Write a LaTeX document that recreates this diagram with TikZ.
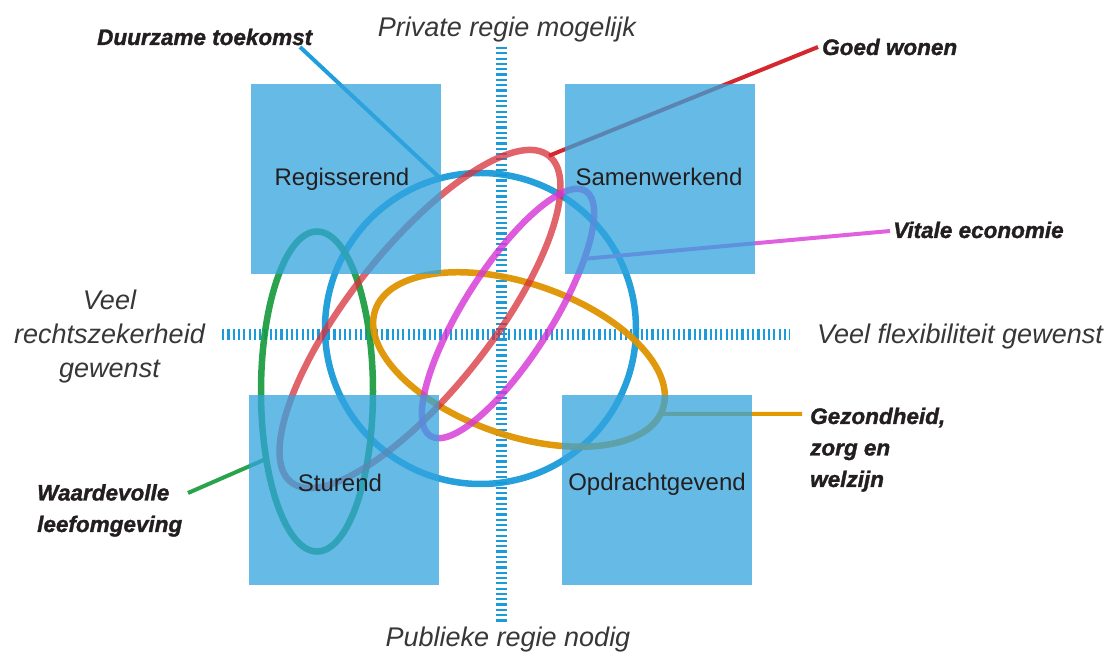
\documentclass[tikz,border=0pt]{standalone}
\usepackage{fontspec}
\setmainfont{Liberation Sans}
\newfontfamily\themefont{Liberation Sans}[BoldItalicFeatures={FakeBold=1.4}]
\usetikzlibrary{shapes.geometric}
\definecolor{sqblue}{RGB}{51,164,222}
\definecolor{axblue}{RGB}{27,155,218}
\definecolor{cblue}{RGB}{20,152,216}
\definecolor{cred}{RGB}{216,48,58}
\definecolor{cpink}{RGB}{214,56,214}
\definecolor{corange}{RGB}{222,148,0}
\definecolor{cgreen}{RGB}{25,154,62}
\definecolor{lred}{RGB}{213,40,46}
\definecolor{lpink}{RGB}{224,96,224}
\definecolor{lorange}{RGB}{226,154,0}
\definecolor{lgreen}{RGB}{43,162,76}
\definecolor{lblue}{RGB}{30,159,219}
\definecolor{txt}{RGB}{35,31,32}
\definecolor{axtxt}{RGB}{55,55,55}
\begin{document}
\begin{tikzpicture}[x=1pt,y=1pt,
  sq/.style={fill=sqblue, fill opacity=0.75, minimum size=190pt, inner sep=0pt, outer sep=0pt, draw=none},
  sqlabel/.style={font=\fontsize{24}{28}\selectfont, text=txt, anchor=base, inner sep=0pt},
  loopshape/.style={ellipse, draw, line width=6.5pt, inner sep=0pt, outer sep=0pt},
  conn/.style={line width=4pt},
  axisline/.style={draw=axblue, line width=11pt, dash pattern=on 2.2pt off 3.1pt},
  axlabel/.style={font=\fontsize{27}{34}\selectfont\itshape, text=axtxt, inner sep=0pt},
  theme/.style={font=\themefont\fontsize{22.5}{31.5}\selectfont\bfseries\itshape, text=txt, inner sep=0pt, align=left, anchor=base west}
]
\useasboundingbox (0,0) rectangle (1112,658);

% axes
\draw[axisline] (501.5,611) -- (501.5,36);
\draw[axisline] (222,323.5) -- (790,323.5);

% loops
\node[loopshape, draw=cblue, draw opacity=0.92, circle, minimum size=311pt] (circ) at (480.5,329.5) {};
\node[loopshape, draw=cgreen, draw opacity=0.92, minimum width=112pt, minimum height=320pt] (green) at (317,266.5) {};
\node[loopshape, draw=corange, draw opacity=0.95, minimum width=304pt, minimum height=152pt, rotate=-19] (orange) at (519,298.5) {};
\node[loopshape, draw=cred, draw opacity=0.75, minimum width=416pt, minimum height=142pt, rotate=51.7] (red) at (420,339) {};
\node[loopshape, draw=cpink, draw opacity=0.82, minimum width=290pt, minimum height=88pt, rotate=57.6] (pink) at (508,344.5) {};

% theme labels
\node[theme] (duur) at (97,613) {Duurzame toekomst};
\node[theme] (goed) at (822,603) {Goed wonen};
\node[theme] (vitaal) at (893,420) {Vitale economie};
\node[theme] (gezond) at (810,171) {Gezondheid,\\zorg en\\welzijn};
\node[theme] (waarde) at (37,126) {Waardevolle\\leefomgeving};

\coordinate (duurA) at (300,611);
\coordinate (goedA) at (818,611);
\coordinate (vitaalA) at (890,427);
\coordinate (gezondA) at (802,244);
\coordinate (waardeA) at (188,165);

% connectors
\draw[conn, draw=lblue] (duurA) -- (circ.105.6);
\draw[conn, draw=lred] (goedA) -- (red.east);
\draw[conn, draw=lpink] (vitaalA) -- (pink.-22);
\draw[conn, draw=lorange] (gezondA) -- (orange.-2);
\draw[conn, draw=lgreen] (waardeA) -- (green.233);

% squares
\node[sq] (tl) at (346,479) {};
\node[sq] (tr) at (660,479) {};
\node[sq] (bl) at (344,168) {};
\node[sq] (br) at (657,168) {};

\node[sqlabel] (tlL) at (342,472) {Regisserend};
\node[sqlabel] (trL) at (659,472) {Samenwerkend};
\node[sqlabel] (blL) at (340,166) {Sturend};
\node[sqlabel] (brL) at (657,167) {Opdrachtgevend};

% axis labels
\node[axlabel, anchor=base] (top) at (507,621) {Private regie mogelijk};
\node[axlabel, anchor=base] (bottom) at (508,11) {Publieke regie nodig};
\node[axlabel, anchor=base west] (right) at (817,314) {Veel flexibiliteit gewenst};
\node[axlabel, anchor=base, align=center] (left) at (109.5,280) {Veel\\rechtszekerheid\\gewenst};
\end{tikzpicture}
\end{document}
